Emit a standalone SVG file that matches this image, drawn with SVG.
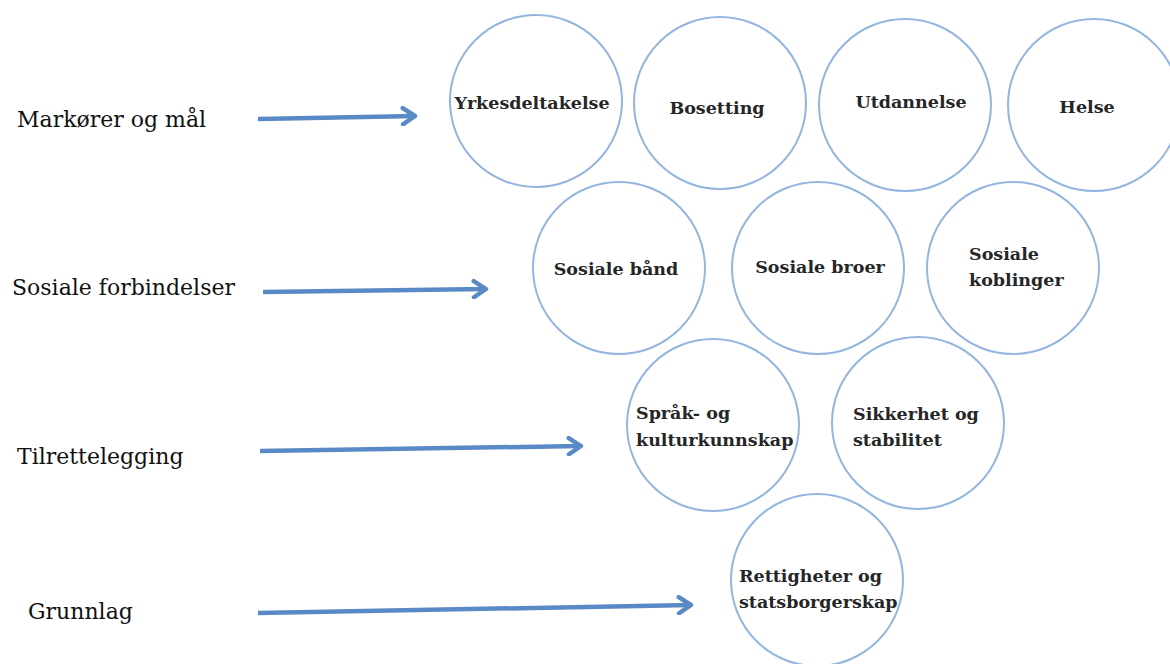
<svg xmlns="http://www.w3.org/2000/svg" width="1170" height="664" viewBox="0 0 1170 664">
<defs>
<style>
.c{fill:#fff;stroke:#93b5df;stroke-width:2}
.n{font-family:"DejaVu Serif","Liberation Serif",serif;font-weight:bold;font-size:17.5px;fill:#262626}
.l{font-family:"DejaVu Serif","Liberation Serif",serif;font-size:22px;fill:#111}
.a{stroke:#5a8ac6;stroke-width:4.5;fill:none;marker-end:url(#ah)}
</style>
<marker id="ah" viewBox="0 0 10 10" refX="8" refY="5" markerWidth="4.5" markerHeight="4.5" orient="auto" markerUnits="strokeWidth">
<polyline points="2,1 8,5 2,9" fill="none" stroke="#5a8ac6" stroke-width="2.2" stroke-linecap="round" stroke-linejoin="round"/>
</marker>
</defs>
<rect width="1170" height="664" fill="#fff"/>
<g id="labels">
<text class="l" x="17" y="127">Markører og mål</text>
<text class="l" x="12" y="295">Sosiale forbindelser</text>
<text class="l" x="17" y="464">Tilrettelegging</text>
<text class="l" x="28" y="619">Grunnlag</text>
</g>
<g id="connectors">
<line class="a" x1="258" y1="119" x2="415" y2="116"/>
<line class="a" x1="263" y1="292" x2="486" y2="289"/>
<line class="a" x1="260" y1="451" x2="581" y2="446"/>
<line class="a" x1="258" y1="613" x2="691" y2="605"/>
</g>
<g id="n-yrkes"><circle class="c" cx="536" cy="101" r="86"/><text class="n" x="532" y="109" text-anchor="middle">Yrkesdeltakelse</text></g>
<g id="n-boset"><circle class="c" cx="720" cy="103" r="86"/><text class="n" x="717" y="114" text-anchor="middle">Bosetting</text></g>
<g id="n-utd"><circle class="c" cx="905" cy="105" r="86"/><text class="n" x="911" y="108" text-anchor="middle">Utdannelse</text></g>
<g id="n-helse"><circle class="c" cx="1094" cy="105" r="86"/><text class="n" x="1087" y="113" text-anchor="middle">Helse</text></g>
<g id="n-band"><circle class="c" cx="619" cy="268" r="86"/><text class="n" x="616" y="275" text-anchor="middle">Sosiale bånd</text></g>
<g id="n-broer"><circle class="c" cx="818" cy="268" r="86"/><text class="n" x="820" y="273" text-anchor="middle">Sosiale broer</text></g>
<g id="n-kobl"><circle class="c" cx="1013" cy="268" r="86"/><text class="n" x="969" y="260">Sosiale</text><text class="n" x="969" y="286">koblinger</text></g>
<g id="n-sprak"><circle class="c" cx="713" cy="425" r="86"/><text class="n" x="636" y="419">Språk- og</text><text class="n" x="636" y="446">kulturkunnskap</text></g>
<g id="n-sikk"><circle class="c" cx="918" cy="423" r="86"/><text class="n" x="853" y="420">Sikkerhet og</text><text class="n" x="853" y="446">stabilitet</text></g>
<g id="n-rett"><circle class="c" cx="817" cy="580" r="86"/><text class="n" x="739" y="582">Rettigheter og</text><text class="n" x="739" y="608">statsborgerskap</text></g>
</svg>
